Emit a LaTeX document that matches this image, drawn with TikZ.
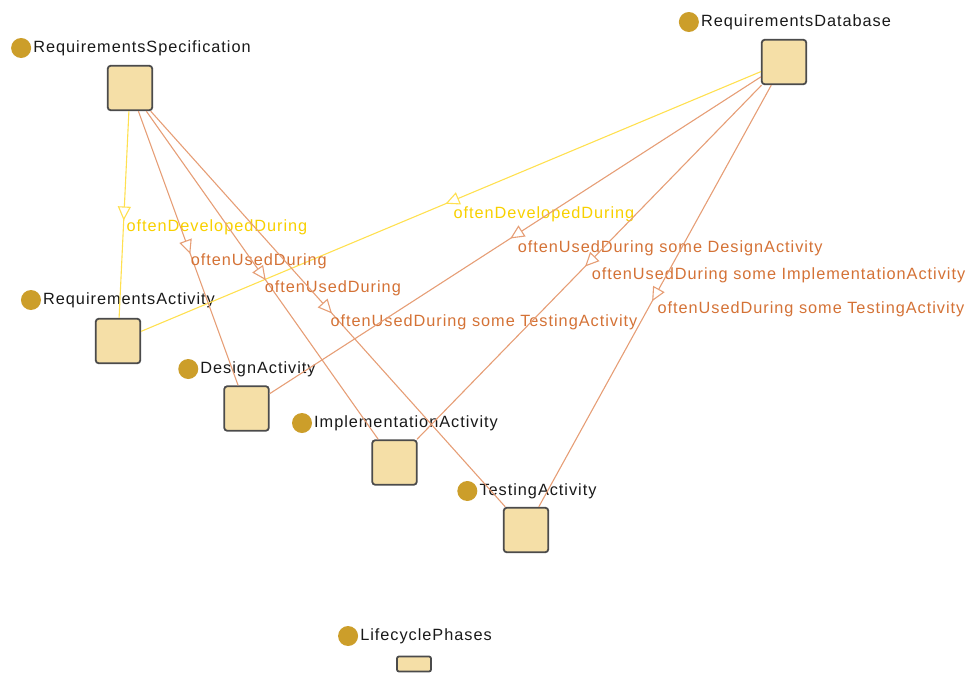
\documentclass[tikz,border=0pt]{standalone}
\usepackage{fontspec}
\setmainfont{Liberation Sans}[LetterSpace=6]
\usetikzlibrary{arrows.meta,decorations.markings}
\definecolor{boxfill}{RGB}{245,223,167}
\definecolor{boxdraw}{RGB}{75,75,75}
\definecolor{dotc}{RGB}{204,158,42}
\definecolor{namec}{RGB}{25,25,25}
\definecolor{yline}{RGB}{255,224,80}
\definecolor{ytext}{RGB}{248,208,0}
\definecolor{oline}{RGB}{230,158,118}
\definecolor{otext}{RGB}{212,114,54}
\tikzset{
  box/.style={draw=boxdraw, fill=boxfill, line width=1.8pt, rounded corners=3pt,
    minimum width=44.5pt, minimum height=44.5pt, inner sep=0pt},
  namelbl/.style={inner sep=0pt, font=\fontsize{16.3}{18}\selectfont, text=namec},
  dotn/.style={circle, fill=dotc, minimum size=20pt, inner sep=0pt},
  edgelbl/.style={inner sep=0pt, anchor=base west, xshift=2pt, yshift=-17pt,
    font=\fontsize{16.3}{18}\selectfont},
  yedge/.style={draw=yline, line width=1.1pt, postaction={decorate},
    decoration={markings, mark=at position 0.5 with
      {\begin{scope}[xshift=6pt]\arrow{Triangle[length=14pt,width=13pt,color=yline,fill=white]}\end{scope}}}},
  oedge/.style={draw=oline, line width=1.1pt, postaction={decorate},
    decoration={markings, mark=at position 0.5 with
      {\begin{scope}[xshift=6pt]\arrow{Triangle[length=14pt,width=13pt,color=oline,fill=white]}\end{scope}}}},
}
\begin{document}
\begin{tikzpicture}[x=1pt,y=-1pt]
\useasboundingbox (0,0) rectangle (969,673);
% boxes
\node[box] (rs) at (130,88) {};
\node[box] (rd) at (784,62) {};
\node[box] (ra) at (118,341) {};
\node[box] (da) at (246.5,408.5) {};
\node[box] (ia) at (394.5,462.5) {};
\node[box] (ta) at (526,530) {};
\node[box, minimum width=34pt, minimum height=15pt, rounded corners=2pt] (lp) at (414,664) {};
% name labels
\node[namelbl] (rsL) at (131,48) {\hspace*{22pt}RequirementsSpecification};
\node[dotn] (rsD) at ([xshift=10pt]rsL.west) {};
\node[namelbl] (rdL) at (785,22) {\hspace*{22pt}RequirementsDatabase};
\node[dotn] (rdD) at ([xshift=10pt]rdL.west) {};
\node[namelbl] (raL) at (118,300) {\hspace*{22pt}RequirementsActivity};
\node[dotn] (raD) at ([xshift=10pt]raL.west) {};
\node[namelbl] (daL) at (247,369) {\hspace*{22pt}DesignActivity};
\node[dotn] (daD) at ([xshift=10pt]daL.west) {};
\node[namelbl] (iaL) at (395,423) {\hspace*{22pt}ImplementationActivity};
\node[dotn] (iaD) at ([xshift=10pt]iaL.west) {};
\node[namelbl] (taL) at (527,491) {\hspace*{22pt}TestingActivity};
\node[dotn] (taD) at ([xshift=10pt]taL.west) {};
\node[namelbl] (lpL) at (415,636) {\hspace*{22pt}LifecyclePhases};
\node[dotn] (lpD) at ([xshift=10pt]lpL.west) {};
% edges
\draw[yedge] (rs) -- node[edgelbl, text=ytext] {oftenDevelopedDuring} (ra);
\draw[yedge] (rd) -- node[edgelbl, text=ytext] {oftenDevelopedDuring} (ra);
\draw[oedge] (rs) -- node[edgelbl, text=otext] {oftenUsedDuring} (da);
\draw[oedge] (rs) -- node[edgelbl, text=otext] {oftenUsedDuring} (ia);
\draw[oedge] (rs) -- node[edgelbl, text=otext] {oftenUsedDuring some TestingActivity} (ta);
\draw[oedge] (rd) -- node[edgelbl, text=otext] {oftenUsedDuring some DesignActivity} (da);
\draw[oedge] (rd) -- node[edgelbl, text=otext] {oftenUsedDuring some ImplementationActivity} (ia);
\draw[oedge] (rd) -- node[edgelbl, text=otext] {oftenUsedDuring some TestingActivity} (ta);
\end{tikzpicture}
\end{document}
